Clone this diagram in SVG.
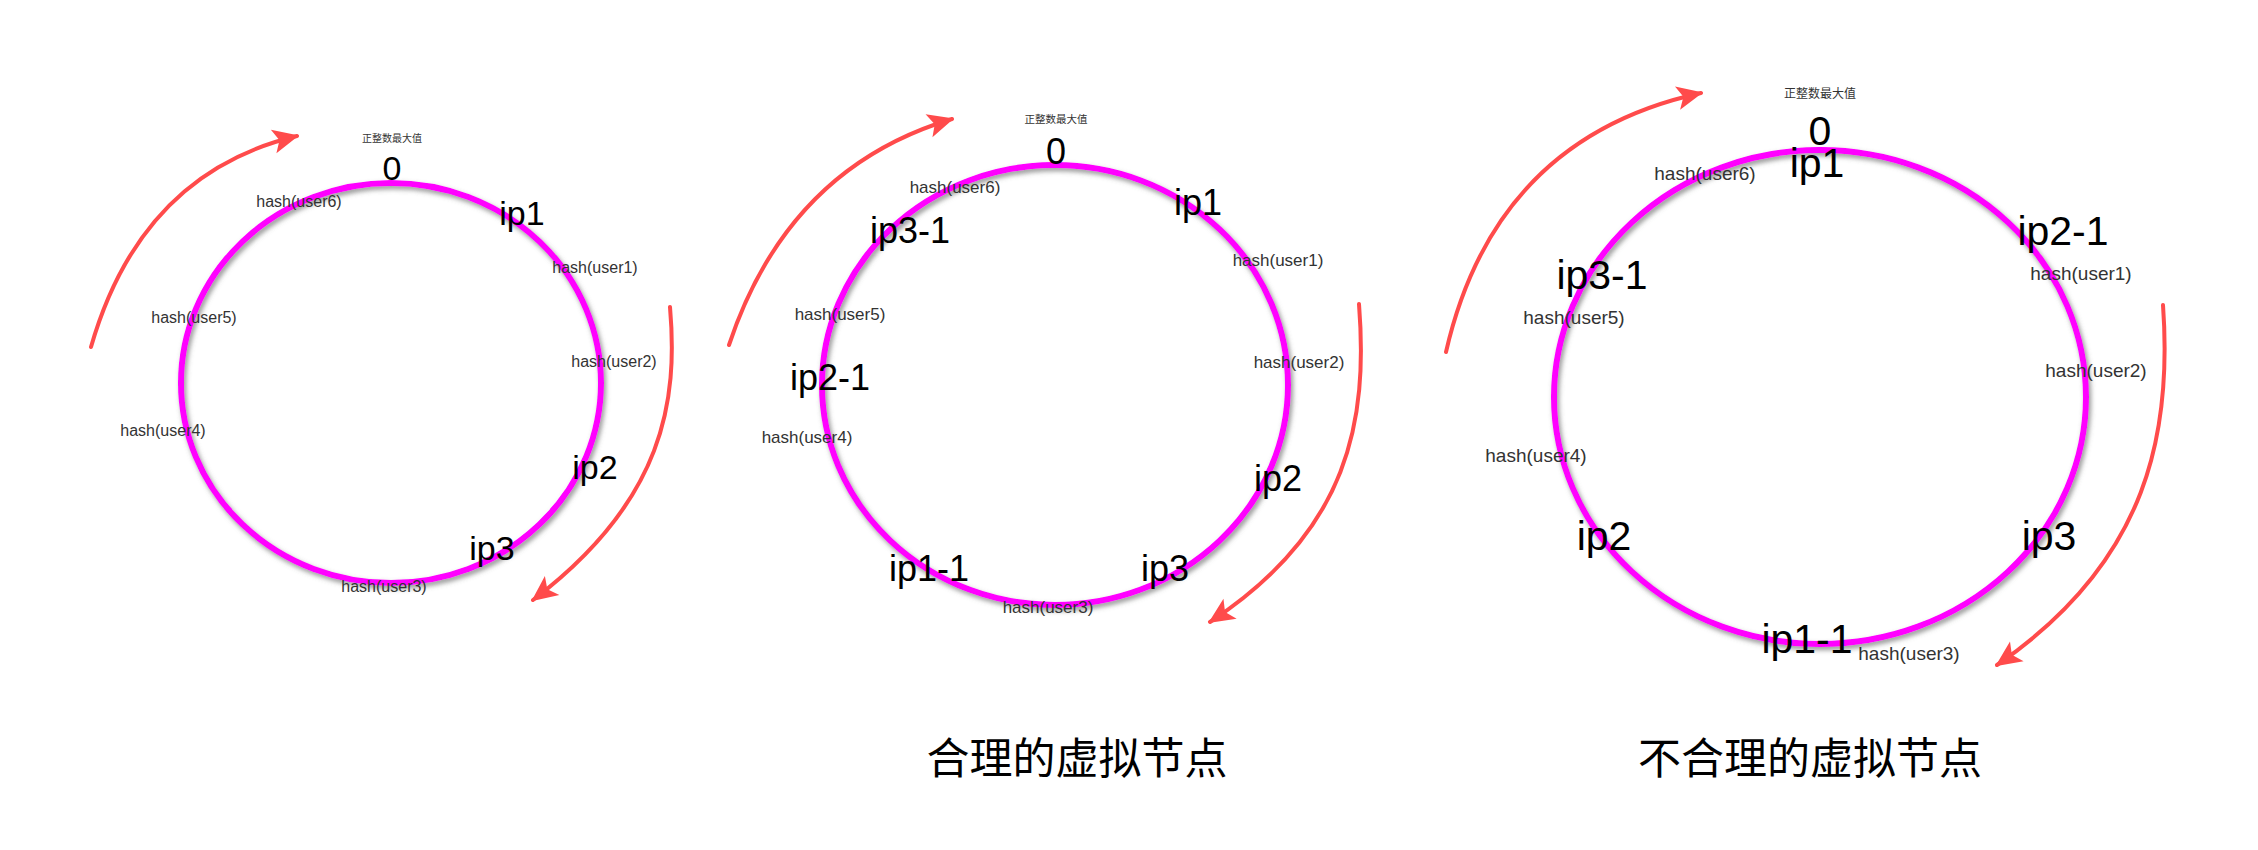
<svg xmlns="http://www.w3.org/2000/svg" width="2258" height="850" viewBox="0 0 2258 850">
<style>
.ring{fill:none;stroke:#FF00FF;stroke-width:6;filter:url(#sh)}
.arr{fill:none;stroke:#FF4B4B;stroke-width:4;stroke-linecap:round;marker-end:url(#ah)}
.t{font-family:"Liberation Sans",Arial,sans-serif;text-anchor:middle;fill:#000}
.h{font-family:"Liberation Sans",Arial,sans-serif;text-anchor:middle;fill:#333}
.cj{font-family:"Noto Sans CJK SC",sans-serif;text-anchor:middle;fill:#333}
.cap{font-family:"Noto Sans CJK SC",sans-serif;text-anchor:middle;fill:#000;font-size:43px}
.p1 .t{font-size:34px}.p1 .h{font-size:16px}.p1 .cj{font-size:10px}
.p2 .t{font-size:36px}.p2 .h{font-size:17px}.p2 .cj{font-size:10.5px}
.p3 .t{font-size:41px}.p3 .h{font-size:19px}.p3 .cj{font-size:12px}
</style>
<defs>
<filter id="sh" x="-10%" y="-10%" width="120%" height="120%">
<feDropShadow dx="2" dy="3" stdDeviation="2.5" flood-color="#666" flood-opacity="0.7"/>
</filter>
<marker id="ah" markerUnits="userSpaceOnUse" markerWidth="30" markerHeight="30" viewBox="0 0 30 30" refX="26" refY="15" orient="auto">
<path d="M2,3 L28,15 L2,27 L8,15 Z" fill="#FF4B4B"/>
</marker>
</defs>
<rect width="2258" height="850" fill="#fff"/>

<g id="connectors">
<path class="arr" d="M91,347 Q141,173 297,136"/>
<path class="arr" d="M670,307 C678,400 665,500 533,600"/>
<path class="arr" d="M729,345 Q788,168 952,119"/>
<path class="arr" d="M1359,304 C1368,420 1350,530 1210,622"/>
<path class="arr" d="M1446,352 Q1495,138 1701,93"/>
<path class="arr" d="M2163,305 C2172,430 2150,560 1997,665"/>
</g>

<g class="p1">
<g id="ring1"><ellipse class="ring" cx="391" cy="383" rx="210" ry="200"/></g>
<g id="p1-max"><text class="cj" x="392" y="142">正整数最大值</text></g>
<g id="p1-zero"><text class="t" x="392" y="180">0</text></g>
<g id="p1-ip1"><text class="t" x="522" y="225">ip1</text></g>
<g id="p1-ip2"><text class="t" x="595" y="479">ip2</text></g>
<g id="p1-ip3"><text class="t" x="492" y="560">ip3</text></g>
<g id="p1-u6"><text class="h" x="299" y="207">hash(user6)</text></g>
<g id="p1-u1"><text class="h" x="595" y="273">hash(user1)</text></g>
<g id="p1-u5"><text class="h" x="194" y="323">hash(user5)</text></g>
<g id="p1-u2"><text class="h" x="614" y="367">hash(user2)</text></g>
<g id="p1-u4"><text class="h" x="163" y="436">hash(user4)</text></g>
<g id="p1-u3"><text class="h" x="384" y="592">hash(user3)</text></g>
</g>

<g class="p2">
<g id="ring2"><ellipse class="ring" cx="1055" cy="385" rx="233" ry="220"/></g>
<g id="p2-max"><text class="cj" x="1056" y="123">正整数最大值</text></g>
<g id="p2-zero"><text class="t" x="1056" y="164">0</text></g>
<g id="p2-ip1"><text class="t" x="1198" y="215">ip1</text></g>
<g id="p2-ip3-1"><text class="t" x="910" y="243">ip3-1</text></g>
<g id="p2-ip2-1"><text class="t" x="830" y="390">ip2-1</text></g>
<g id="p2-ip2"><text class="t" x="1278" y="491">ip2</text></g>
<g id="p2-ip1-1"><text class="t" x="929" y="581">ip1-1</text></g>
<g id="p2-ip3"><text class="t" x="1165" y="581">ip3</text></g>
<g id="p2-u6"><text class="h" x="955" y="193">hash(user6)</text></g>
<g id="p2-u1"><text class="h" x="1278" y="266">hash(user1)</text></g>
<g id="p2-u5"><text class="h" x="840" y="320">hash(user5)</text></g>
<g id="p2-u2"><text class="h" x="1299" y="368">hash(user2)</text></g>
<g id="p2-u4"><text class="h" x="807" y="443">hash(user4)</text></g>
<g id="p2-u3"><text class="h" x="1048" y="613">hash(user3)</text></g>
</g>

<g class="p3">
<g id="ring3"><ellipse class="ring" cx="1820" cy="397" rx="266" ry="247"/></g>
<g id="p3-max"><text class="cj" x="1820" y="98">正整数最大值</text></g>
<g id="p3-zero"><text class="t" x="1820" y="145">0</text></g>
<g id="p3-ip1"><text class="t" x="1817" y="177">ip1</text></g>
<g id="p3-ip2-1"><text class="t" x="2063" y="245">ip2-1</text></g>
<g id="p3-ip3-1"><text class="t" x="1602" y="289">ip3-1</text></g>
<g id="p3-ip2"><text class="t" x="1604" y="550">ip2</text></g>
<g id="p3-ip3"><text class="t" x="2049" y="550">ip3</text></g>
<g id="p3-ip1-1"><text class="t" x="1807" y="653">ip1-1</text></g>
<g id="p3-u6"><text class="h" x="1705" y="180">hash(user6)</text></g>
<g id="p3-u1"><text class="h" x="2081" y="280">hash(user1)</text></g>
<g id="p3-u5"><text class="h" x="1574" y="324">hash(user5)</text></g>
<g id="p3-u2"><text class="h" x="2096" y="377">hash(user2)</text></g>
<g id="p3-u4"><text class="h" x="1536" y="462">hash(user4)</text></g>
<g id="p3-u3"><text class="h" x="1909" y="660">hash(user3)</text></g>
</g>

<g id="cap-reasonable"><text class="cap" x="1077" y="774">合理的虚拟节点</text></g>
<g id="cap-unreasonable"><text class="cap" x="1810" y="774">不合理的虚拟节点</text></g>
</svg>
